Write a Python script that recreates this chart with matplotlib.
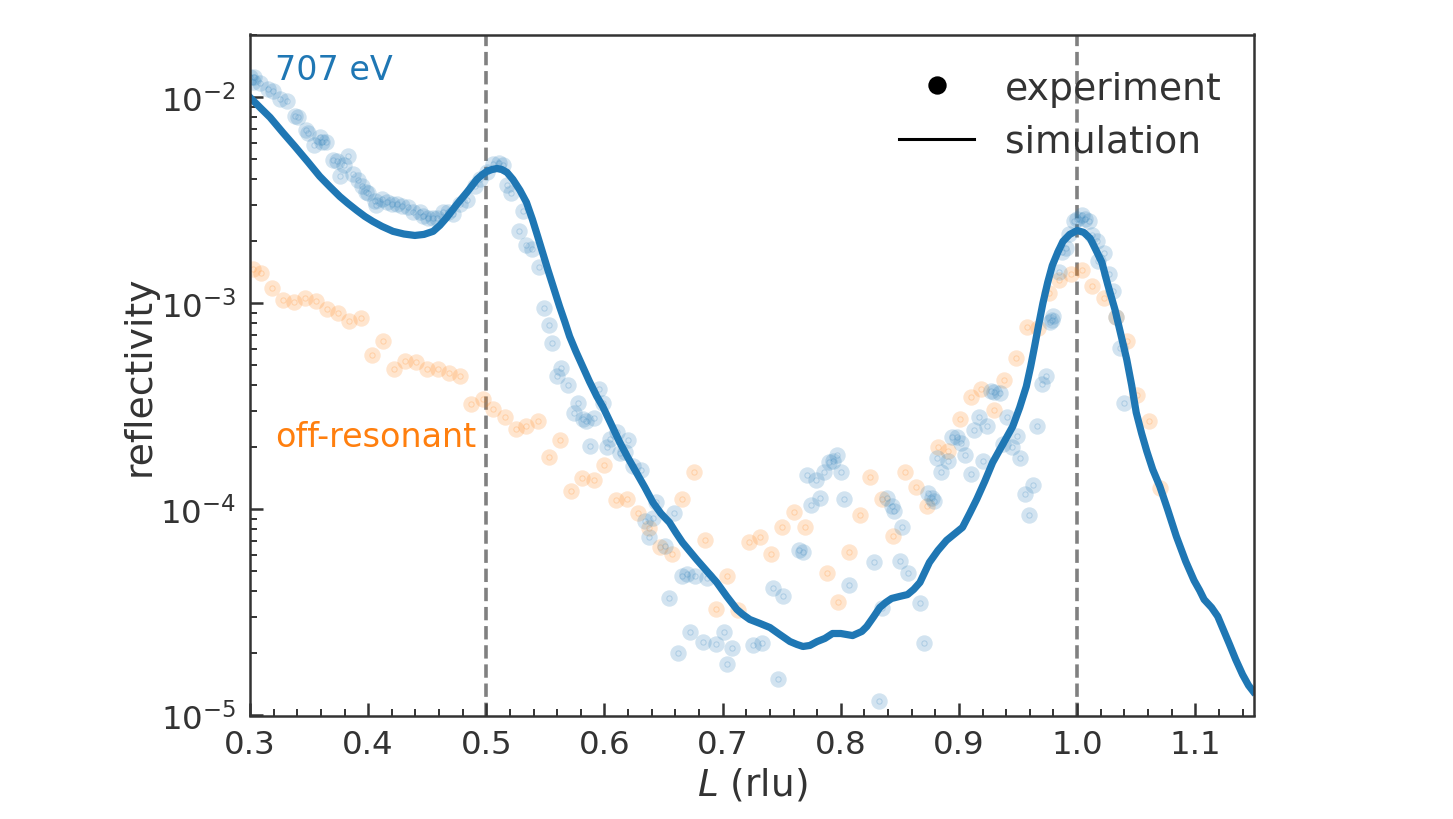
import numpy as np
import matplotlib
matplotlib.use("Agg")
import matplotlib.pyplot as plt
from matplotlib.ticker import LogLocator, NullFormatter, MultipleLocator
from matplotlib.lines import Line2D

L_blue = [.300,.3025,.3034,.3085,.315,.3195,.325,.331,.338,.3405,.347,.349,.354,.359,.361,.364,.370,.3735,.376,.3795,.383,.387,.391,.395,.398,.400,.406,.407,.412,.416,.420,.424,.429,.4335,.438,.444,.446,.4505,.455,.458,.463,.4675,.472,.4775,.484,.490,.495,.5005,.5055,.5105,.514,.5175,.521,.5275,.531,.534,.5385,.545,.5485,.553,.556,.5595,.563,.5695,.574,.5775,.5815,.584,.5875,.591,.595,.5985,.602,.6045,.6105,.613,.617,.620,.624,.631,.634,.6375,.641,.644,.651,.6545,.659,.662,.6655,.670,.672,.6765,.683,.6865,.694,.701,.704,.708,.7255,.733,.743,.7465,.751,.7645,.768,.771,.7745,.779,.782,.7855,.790,.793,.7965,.800,.803,.807,.828,.832,.835,.839,.843,.845,.850,.852,.8565,.867,.870,.8735,.877,.8785,.881,.8845,.891,.8945,.898,.902,.9055,.910,.9125,.917,.920,.9235,.927,.930,.9345,.937,.941,.9445,.949,.952,.9555,.959,.9625,.966,.970,.9735,.977,.9785,.980,.9845,.987,.991,.9935,.997,1.000,1.004,1.007,1.010,1.0125,1.0165,1.018,1.023,1.027,1.030,1.0325,1.036,1.040]
log_R_blue = [1.903,1.927,1.903,1.932,1.961,1.971,2.010,2.019,2.092,2.097,2.160,2.175,2.233,2.194,2.214,2.218,2.306,2.311,2.383,2.330,2.282,2.374,2.403,2.432,2.461,2.466,2.505,2.524,2.495,2.510,2.515,2.519,2.529,2.534,2.558,2.558,2.578,2.583,2.583,2.583,2.558,2.558,2.568,2.519,2.500,2.432,2.398,2.364,2.325,2.320,2.330,2.427,2.466,2.650,2.553,2.718,2.738,2.825,3.024,3.107,3.194,3.354,3.311,3.398,3.534,3.485,3.563,3.573,3.694,3.558,3.413,3.485,3.699,3.660,3.626,3.728,3.723,3.665,3.791,3.806,4.058,4.136,4.039,3.966,4.175,4.432,4.015,4.699,4.325,4.311,4.597,4.325,4.641,4.335,4.655,4.597,4.752,4.670,4.660,4.650,4.383,4.825,4.422,4.199,4.204,3.835,3.976,3.859,3.942,3.816,3.772,3.767,3.738,3.820,3.951,4.369,4.257,4.932,4.476,3.942,3.985,4.005,4.252,4.087,4.306,4.456,4.646,3.922,3.942,3.961,3.748,3.816,3.767,3.646,3.646,3.675,3.738,3.830,3.612,3.553,3.767,3.597,3.427,3.432,3.437,3.680,3.553,3.699,3.641,3.752,3.927,4.029,3.883,3.597,3.393,3.350,3.092,3.078,3.063,2.845,2.748,2.733,2.665,2.602,2.592,2.573,2.592,2.602,2.670,2.699,2.796,2.757,2.859,2.942,3.068,3.214,3.481]

L_orange = [.3025,.309,.3186,.328,.337,.3465,.356,.365,.3745,.384,.394,.403,.4125,.422,.431,.4405,.450,.459,.468,.478,.487,.497,.506,.516,.525,.534,.544,.553,.562,.572,.581,.591,.600,.610,.619,.628,.6375,.647,.657,.666,.6755,.685,.694,.7035,.713,.722,.7315,.741,.750,.760,.7695,.788,.7975,.807,.816,.825,.8345,.844,.854,.8635,.873,.882,.891,.9005,.910,.919,.9295,.938,.948,.9575,.967,.976,.985,.9945,1.004,1.013,1.0225,1.0325,1.042,1.051,1.0605,1.070]
log_R_orange = [2.835,2.850,2.927,2.981,2.995,2.976,2.990,3.029,3.044,3.083,3.073,3.252,3.184,3.316,3.277,3.286,3.320,3.320,3.340,3.354,3.490,3.466,3.510,3.549,3.607,3.597,3.573,3.743,3.665,3.908,3.845,3.859,3.786,3.956,3.951,4.015,4.092,4.180,4.218,3.951,3.816,4.146,4.481,4.325,4.490,4.160,4.136,4.214,4.087,4.010,4.087,4.306,4.447,4.204,4.029,3.840,3.947,4.131,3.820,3.893,3.985,3.699,3.714,3.563,3.456,3.417,3.519,3.374,3.267,3.112,3.117,2.947,2.888,2.859,2.840,2.913,2.976,3.068,3.184,3.442,3.573,3.898]

L_sim = [.300,.3085,.317,.328,.338,.349,.359,.3677,.376,.383,.3905,.3973,.404,.4117,.421,.4303,.4395,.4472,.455,.4607,.4665,.4751,.4835,.492,.4963,.5005,.5048,.509,.5132,.5175,.5225,.5285,.534,.539,.5435,.552,.562,.5665,.5705,.5758,.5815,.5873,.5935,.5985,.6046,.613,.6198,.627,.6342,.641,.6477,.655,.6604,.666,.678,.6866,.695,.7035,.712,.7171,.723,.7315,.740,.7484,.757,.7628,.768,.7738,.780,.7865,.793,.800,.810,.8178,.822,.828,.833,.8381,.843,.8499,.8565,.8617,.867,.875,.8822,.8895,.8966,.903,.9091,.915,.9218,.9285,.937,.9455,.9514,.957,.9607,.964,.9675,.971,.9751,.979,.9836,.988,.9937,1.000,1.0056,1.011,1.0157,1.021,1.0259,1.032,1.037,1.042,1.0462,1.050,1.0546,1.059,1.064,1.070,1.0766,1.084,1.0919,1.099,1.1037,1.1075,1.1138,1.119,1.124,1.129,1.1342,1.140,1.1451,1.149]
log_R_sim = [2.000,2.049,2.097,2.172,2.238,2.313,2.383,2.434,2.481,2.515,2.549,2.578,2.602,2.626,2.650,2.663,2.670,2.665,2.650,2.621,2.583,2.519,2.461,2.398,2.376,2.359,2.350,2.345,2.350,2.364,2.398,2.451,2.510,2.592,2.675,2.835,3.015,3.090,3.160,3.233,3.306,3.379,3.451,3.500,3.573,3.675,3.748,3.820,3.893,3.966,4.019,4.063,4.112,4.160,4.243,4.299,4.354,4.422,4.485,4.510,4.534,4.553,4.573,4.607,4.641,4.655,4.665,4.660,4.641,4.626,4.602,4.602,4.612,4.592,4.568,4.519,4.476,4.451,4.432,4.422,4.413,4.388,4.354,4.257,4.199,4.150,4.117,4.087,4.019,3.951,3.864,3.772,3.684,3.597,3.505,3.403,3.306,3.209,3.102,3.000,2.898,2.816,2.752,2.699,2.665,2.646,2.655,2.684,2.738,2.801,2.908,3.029,3.150,3.272,3.398,3.529,3.631,3.718,3.806,3.888,4.000,4.131,4.252,4.345,4.393,4.437,4.476,4.519,4.587,4.655,4.728,4.801,4.854,4.883]

x_ticks = [0.3,0.4,0.5,0.6,0.7,0.8,0.9,1.0,1.1]
peak_positions = [0.5,1.0]

R_blue = 10.0**(-np.array(log_R_blue))
R_orange = 10.0**(-np.array(log_R_orange))
R_sim = 10.0**(-np.array(log_R_sim))

DARK = "#333333"
BLUE = "#1f77b4"
ORANGE = "#ff7f0e"

plt.rcParams["font.family"] = "DejaVu Sans"
plt.rcParams["mathtext.default"] = "it"

dpi = 200
fig = plt.figure(figsize=(1453/dpi, 820/dpi), dpi=dpi)
ax = fig.add_axes([250/1453, 1-716.5/820, (1254-250)/1453, (716.5-35.5)/820])

disc = dict(linestyle="none", marker="o", markersize=5.9, markeredgewidth=0, alpha=0.2)
ring = dict(linestyle="none", marker="o", markersize=1.9, markerfacecolor="none", markeredgewidth=0.35, alpha=0.22)
for L, R, c in [(L_orange, R_orange, ORANGE), (L_blue, R_blue, BLUE)]:
    ax.plot(L, R, color=c, **disc)
    ax.plot(L, R, color=c, **ring)
ax.plot(L_sim, R_sim, color=BLUE, lw=2.6, solid_joinstyle="round")
for p in peak_positions:
    ax.axvline(p, color="gray", ls="--", lw=1.3, zorder=1)

ax.set_yscale("log")
ax.set_xlim(0.3, 1.1497)
ax.set_ylim(1e-5, 2.02e-2)
ax.set_xticks(x_ticks)
ax.xaxis.set_minor_locator(MultipleLocator(0.02))
ax.yaxis.set_minor_locator(LogLocator(base=10, subs=np.arange(2,10), numticks=12))
ax.yaxis.set_minor_formatter(NullFormatter())
ax.tick_params(which="major", direction="in", length=4.8, width=0.9, color=DARK, labelcolor=DARK, labelsize=11.7, pad=5)
ax.tick_params(which="minor", direction="in", length=2.5, width=0.7, color=DARK)
for s in ax.spines.values():
    s.set_linewidth(0.9)
    s.set_color(DARK)
ax.set_xlabel(r"$L$ (rlu)", fontsize=13.5, color=DARK, labelpad=2)
ax.set_ylabel("reflectivity", fontsize=13.6, color=DARK, labelpad=1)

ax.text(0.025, 0.948, "707 eV", transform=ax.transAxes, color=BLUE, fontsize=12, va="center")
ax.text(0.025, 0.409, "off-resonant", transform=ax.transAxes, color=ORANGE, fontsize=12, va="center")

handles = [Line2D([], [], color="black", marker="o", ls="none", ms=5.6),
           Line2D([], [], color="black", lw=1.1)]
leg = ax.legend(handles, ["experiment", "simulation"], loc="upper right", frameon=False,
                fontsize=13.6, handlelength=2.0, handletextpad=0.8, labelspacing=0.456,
                bbox_to_anchor=(0.9675, 0.947), borderaxespad=0, borderpad=0)
for t in leg.get_texts():
    t.set_color(DARK)

fig.savefig("out.png", dpi=dpi)
